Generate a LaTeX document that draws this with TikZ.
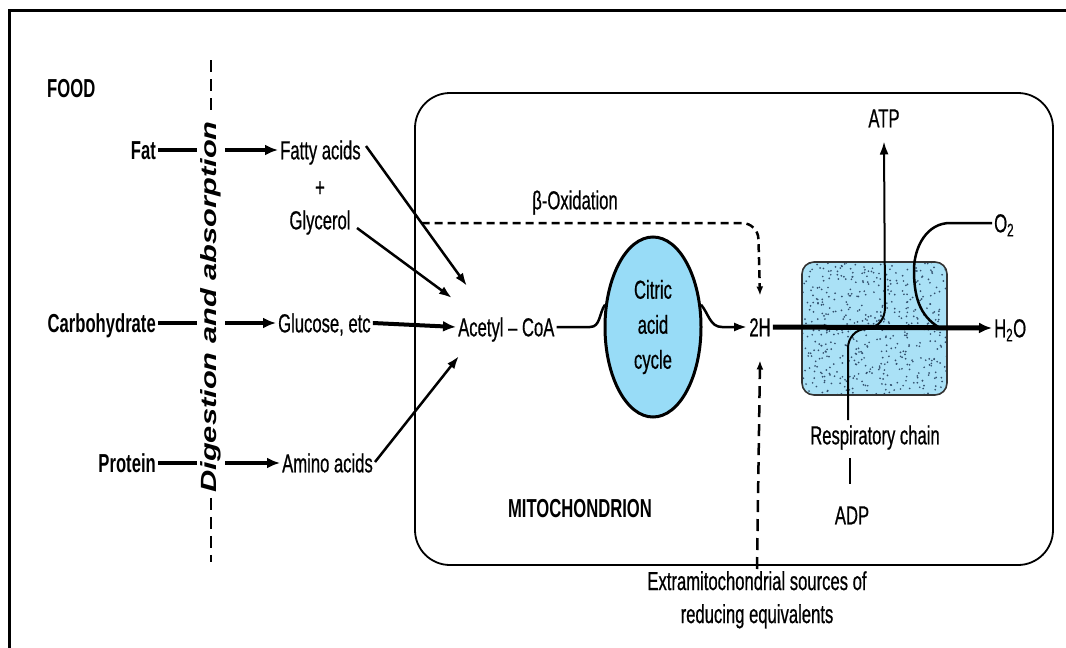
\documentclass[tikz,border=0pt]{standalone}
\usepackage{fontspec}
\setmainfont[FakeStretch=0.64, UprightFeatures={FakeBold=0.6}]{Liberation Sans}
\newfontfamily\widefont[FakeStretch=1.4]{Liberation Sans}
\usetikzlibrary{arrows.meta,shapes.geometric}
\definecolor{cyanA}{RGB}{152,220,247}
\definecolor{cyanB}{RGB}{170,225,246}
\definecolor{dotc}{RGB}{50,80,110}
\tikzset{
  txt/.style={inner sep=2pt, text height=18.6pt, text depth=0pt},
  bold/.style={txt, font=\fontsize{26}{30}\selectfont\bfseries},
  heavy/.style={line width=4pt},
  medium/.style={line width=2.5pt},
  arr/.style={-{Latex[length=13pt,width=11pt]}},
  arrs/.style={-{Latex[length=13pt,width=9pt]}},
  darr/.style={-{Latex[length=9pt,width=7pt]}},
  dash1/.style={line width=2.5pt, dash pattern=on 8pt off 5pt},
  dash2/.style={line width=2.5pt, dash pattern=on 12pt off 7pt},
  divider/.style={line width=1.5pt, dash pattern=on 12pt off 7pt},
}
\begin{document}
\begin{tikzpicture}[x=1pt,y=-1pt, font=\fontsize{26}{30}\selectfont]
\useasboundingbox (0,0) rectangle (1066,648);
% frame
\draw[line width=3pt] (9,648) -- (9,10) -- (1066,10);

% mitochondrion
\draw[line width=1.8pt, rounded corners=35pt] (415,93) rectangle (1053,565);

% respiratory chain box
\fill[cyanB, rounded corners=12pt] (802,262) rectangle (947,395);
\begin{scope}
  \clip[rounded corners=12pt] (802,262) rectangle (947,395);
  \pgfmathsetseed{7}
  \foreach \i in {1,...,520} {
    \fill[dotc] ({802+145*rnd},{262+133*rnd}) circle (0.95);
  }
\end{scope}
\draw[line width=1.6pt, black!80, rounded corners=12pt] (802,262) rectangle (947,395);

% text nodes
\node[bold, anchor=west] (food) at (45,88) {FOOD};
\node[bold, anchor=east] (fat) at (158,150) {Fat};
\node[bold, anchor=east] (carb) at (158,323) {Carbohydrate};
\node[bold, anchor=east] (prot) at (158,463) {Protein};
\node[txt, anchor=west] (fatty) at (278,150) {Fatty acids};
\node[txt] (plus) at (320,187) {+};
\node[txt] (glyc) at (320,220) {Glycerol};
\node[txt, anchor=west] (gluc) at (276,323) {Glucose, etc};
\node[txt, anchor=west] (amino) at (280,463) {Amino acids};
\node[txt, anchor=west] (acoa) at (456,327) {Acetyl -- CoA};
\node[draw, ellipse, line width=3pt, fill=cyanA, minimum width=96pt, minimum height=180pt,
      inner sep=0pt, align=center, font=\fontsize{26}{35}\selectfont] (cyc) at (653,327) {Citric\\acid\\cycle};
\node[txt] (twoH) at (760,327) {2H};
\node[txt] (beta) at (575,200) {β-Oxidation};
\node[txt] (atp) at (884,118) {ATP};
\node[txt, anchor=west] (o2) at (992,223) {O\textsubscript{2}};
\node[txt, anchor=west] (h2o) at (992,328) {H\textsubscript{2}O};
\node[txt] (resp) at (875,435) {Respiratory chain};
\node[txt] (adp) at (852,515) {ADP};
\node[bold] (mito) at (580,508) {MITOCHONDRION};
\node[align=center, anchor=north, inner sep=2pt, font=\fontsize{26}{33}\selectfont] (extra) at (757,569)
  {Extramitochondrial sources of\\reducing equivalents};

% digestion and absorption divider
\node[rotate=90, inner sep=0pt, font=\fontsize{22}{26}\widefont\bfseries\itshape] (dig) at (211,307) {Digestion and absorption};
\coordinate (dtop1) at (211,60);
\coordinate (dbot2) at (211,562);
\draw[divider] (dtop1) -- ([yshift=5pt]dig.east);
\draw[divider] ([yshift=-5pt]dig.west) -- (dbot2);

% food rows
\coordinate (fl) at (197,150); \coordinate (fr) at (225,150);
\coordinate (cl) at (197,323); \coordinate (cr) at (225,323);
\coordinate (pl) at (197,463); \coordinate (pr) at (225,463);
\draw[heavy] (fat.east) -- (fl);
\draw[heavy, arr] (fr) -- (fatty.west);
\draw[heavy] (carb.east) -- (cl);
\draw[heavy, arr] (cr) -- (gluc.west);
\draw[heavy] (prot.east) -- (pl);
\draw[heavy, arr] (pr) -- (amino.west);

% to acetyl-CoA
\coordinate (fa1) at (366,146); \coordinate (fa2) at (467,286);
\coordinate (gl1) at (357,228); \coordinate (gl2) at (452,298);
\coordinate (am1) at (375,462); \coordinate (am2) at (459,356);
\draw[medium, arrs] (fa1) -- (fa2);
\draw[medium, arrs] (gl1) -- (gl2);
\draw[medium, arrs] (am1) -- (am2);
\draw[heavy, arr] (gluc.east) -- (acoa.west);

% acetyl-CoA to cycle to 2H
\draw[line width=2.5pt] (acoa.east) -- (590,327) to[out=0,in=235] (cyc.155);
\draw[line width=2.5pt, arrs] (cyc.25) to[out=-50,in=180] (722,327) -- (twoH.west);

% beta oxidation dashed
\path (fa1) -- (fa2) coordinate[pos=0.55] (bstart);
\draw[dash1, darr, rounded corners=16pt] (bstart) -- (758,223) -- ([yshift=20pt]twoH.north);

% extramitochondrial dashed
\draw[dash2, darr] (extra.north) -- ([yshift=-22pt]twoH.south);

% main arrow
\draw[line width=5pt, arr] (twoH.east) -- (h2o.west);

% ATP / ADP line
\coordinate (adpbot) at (848,420);
\draw[line width=2pt] (adpbot) -- (848,348) to[out=90,in=180] (866,329);
\draw[line width=2pt, arrs] (866,329) to[out=0,in=-90] (885,308) -- ([yshift=-12pt]atp.south);
\coordinate (tick1) at (850,458); \coordinate (tick2) at (850,484);
\draw[line width=2pt] (tick1) -- (tick2);

% O2 curve
\draw[line width=2.5pt] (o2.west) -- (950,223) to[out=180,in=90] (914,270) to[out=-90,in=150] (940,328);
\end{tikzpicture}
\end{document}
